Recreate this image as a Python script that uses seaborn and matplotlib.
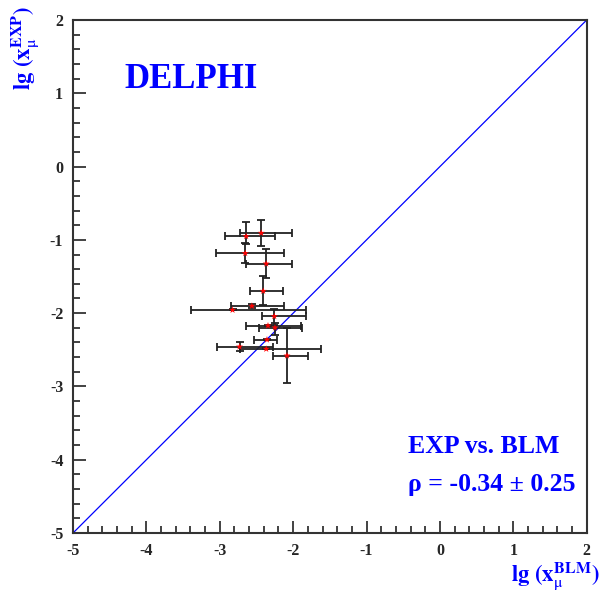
import numpy as np
import pandas as pd
import seaborn as sns
import matplotlib.pyplot as plt
from matplotlib.ticker import MultipleLocator

# lg(x_mu) values
lg_blm = [-2.435, -2.64, -2.653, -2.367, -2.408, -2.562, -2.826,
          -2.257, -2.343, -2.248, -2.357, -2.731, -2.367, -2.084]
lg_exp = [-0.906, -0.951, -1.183, -1.325, -1.698, -1.902, -1.957,
          -2.043, -2.171, -2.198, -2.362, -2.458, -2.489, -2.580]
blm_lo = [-2.73, -2.93, -3.05, -2.64, -2.59, -2.85, -3.39,
          -2.43, -2.64, -2.47, -2.53, -3.04, -2.73, -2.275]
blm_hi = [-2.02, -2.25, -2.12, -2.02, -2.14, -2.13, -1.82,
          -1.825, -1.89, -1.88, -2.22, -2.28, -1.62, -1.80]
exp_lo = [-1.08, -1.06, -1.32, -1.52, -1.89, -1.93, -1.96,
          -2.16, -2.18, -2.30, -2.37, -2.52, -2.49, -2.95]
exp_hi = [-0.73, -0.76, -1.04, -1.13, -1.49, -1.87, -1.95,
          -1.94, -2.16, -2.13, -2.35, -2.40, -2.48, -2.20]

df = pd.DataFrame({"blm": lg_blm, "exp": lg_exp,
                   "blm_lo": blm_lo, "blm_hi": blm_hi,
                   "exp_lo": exp_lo, "exp_hi": exp_hi})

sns.set_style("ticks")
plt.rcParams["font.family"] = ["Liberation Serif", "DejaVu Serif"]
plt.rcParams["mathtext.fontset"] = "stix"
plt.rcParams["axes.unicode_minus"] = False

fig = plt.figure(figsize=(6.04, 5.96), dpi=100)
ax = fig.add_axes([0.1209, 0.1057, 0.8504, 0.8607])

# diagonal
ax.plot([-5, 2], [-5, 2], color="blue", lw=0.9, zorder=1)

xerr = [df["blm"] - df["blm_lo"], df["blm_hi"] - df["blm"]]
yerr = [df["exp"] - df["exp_lo"], df["exp_hi"] - df["exp"]]
ax.errorbar(df["blm"], df["exp"], xerr=xerr, yerr=yerr, fmt="none",
            ecolor="#222222", elinewidth=1.3, capsize=3, capthick=1.3, zorder=2)
sns.scatterplot(data=df, x="blm", y="exp", marker="*", color="red",
                s=28, edgecolor="none", ax=ax, zorder=3)

ax.set_xlim(-5, 2)
ax.set_ylim(-5, 2)
ax.xaxis.set_major_locator(MultipleLocator(1))
ax.yaxis.set_major_locator(MultipleLocator(1))
ax.xaxis.set_minor_locator(MultipleLocator(0.2))
ax.yaxis.set_minor_locator(MultipleLocator(0.2))
ax.tick_params(which="both", direction="in", top=False, right=False,
               width=1.2, color="#222222")
ax.tick_params(which="major", length=9, labelsize=11.5, pad=7)
ax.tick_params(which="minor", length=5)
for lab in ax.get_xticklabels() + ax.get_yticklabels():
    lab.set_fontweight("bold")
for sp in ax.spines.values():
    sp.set_linewidth(1.5)
    sp.set_color("#333333")

ax.set_xlabel("")
ax.set_ylabel("")
fig.text(0.993, 0.034, r"$\mathbf{lg\ (x}_{\mathrm{\mu}}^{\mathbf{BLM}}\mathbf{)}$",
         color="blue", fontsize=16.5, ha="right", va="center")
fig.text(0.042, 0.99, r"$\mathbf{lg\ (x}_{\mathrm{\mu}}^{\mathbf{EXP}}\mathbf{)}$",
         color="blue", fontsize=16.5, ha="center", va="top", rotation=90)

ax.text(0.10, 0.885, "DELPHI", transform=ax.transAxes, color="blue",
        fontsize=25, fontweight="bold", ha="left", va="center")
ax.text(0.653, 0.168, "EXP vs. BLM", transform=ax.transAxes, color="blue",
        fontsize=18.5, fontweight="bold", ha="left", va="center")
ax.text(0.653, 0.095, "ρ = -0.34 ± 0.25", transform=ax.transAxes,
        color="blue", fontsize=18.5, fontweight="bold", ha="left", va="center")

fig.savefig("out.png", dpi=100)
